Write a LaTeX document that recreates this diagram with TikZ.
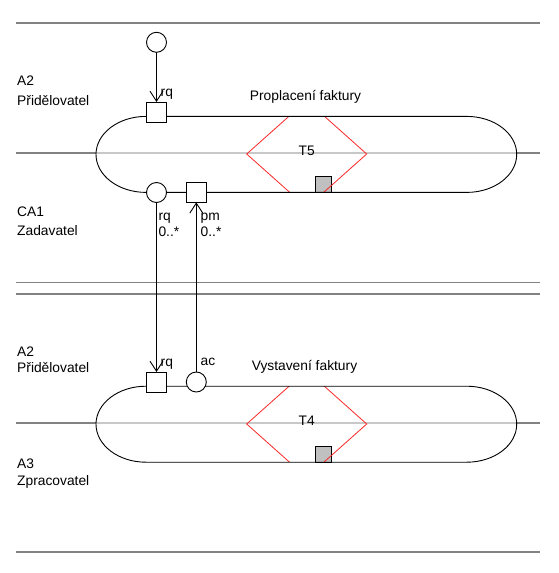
\documentclass[tikz,border=0pt]{standalone}
\usepackage{fontspec}
\setmainfont{Liberation Sans}
\usetikzlibrary{arrows.meta}
\definecolor{lanecol}{RGB}{130,130,130}
\definecolor{innercol}{RGB}{200,200,200}
\definecolor{boxcol}{RGB}{192,192,192}
\definecolor{diacol}{RGB}{250,40,40}
\begin{document}
\begin{tikzpicture}[x=1pt,y=-1pt,
  txt/.style={font=\fontsize{13.8}{16}\selectfont, inner sep=0pt, anchor=base west},
  ctxt/.style={font=\fontsize{13.8}{16}\selectfont, inner sep=0pt, anchor=base},
  lane/.style={draw=lanecol, line width=1.6pt},
  inner/.style={draw=innercol, line width=1.4pt},
  outline/.style={draw=black, line width=0.9pt},
  diam/.style={draw=diacol, line width=0.8pt},
  gbox/.style={fill=boxcol, draw=black, line width=0.8pt},
  port/.style={draw=black, line width=0.9pt, fill=white, minimum size=20pt, inner sep=0pt, outer sep=0pt},
  sqport/.style={port, rectangle},
  ciport/.style={port, circle},
  flow/.style={draw=black, line width=0.9pt, -{Straight Barb[length=10pt,width=13pt,line width=0.9pt]}}
]
\useasboundingbox (0,0) rectangle (558,573);
% lane separators
\foreach \yy in {22.7,153,282.5,294,423,551.7}
  \draw[lane] (16,\yy) -- (540,\yy);
% stadiums
\foreach \c/\d in {154.4/154, 424.2/424}{
  \fill[white] (146,{\c-38}) -- (466.7,{\c-38}) arc[start angle=-90,end angle=90,x radius=50,y radius=38]
     -- (146,{\c+38}) arc[start angle=90,end angle=270,x radius=50,y radius=38] -- cycle;
  \draw[inner] (96.5,{\c-1.3}) -- (516.3,{\c-1.3});
  \draw[gbox] (315.3,{\c+22}) rectangle (331.3,{\c+38});
  \begin{scope}
    \clip (146,{\c-38}) -- (466.7,{\c-38}) arc[start angle=-90,end angle=90,x radius=50,y radius=38]
     -- (146,{\c+38}) arc[start angle=90,end angle=270,x radius=50,y radius=38] -- cycle;
    \draw[diam] (246.7,\d) -- (306.7,{\d-53.5}) -- (366.7,\d) -- (306.7,{\d+53.5}) -- cycle;
  \end{scope}
  \draw[outline] (146,{\c-38}) -- (466.7,{\c-38}) arc[start angle=-90,end angle=90,x radius=50,y radius=38]
     -- (146,{\c+38}) arc[start angle=90,end angle=270,x radius=50,y radius=38] -- cycle;
}
% ports
\node[ciport] (c0) at (156.5,42.3) {};
\node[sqport] (sq1) at (156.5,112) {};
\node[ciport] (ci1) at (156.5,192.5) {};
\node[sqport] (sq2) at (196.3,192.3) {};
\node[sqport] (sq3) at (156.5,382) {};
\node[ciport] (ci3) at (196.3,382) {};
% flows
\draw[flow] (c0) -- (sq1);
\draw[flow] (ci1) -- (sq3);
\draw[flow] (ci3) -- (sq2);
% labels
\node[txt] (la1) at (17,85.7) {A2};
\node[txt] (la2) at (17,105.3) {Přidělovatel};
\node[txt] (la3) at (17,216.7) {CA1};
\node[txt] (la4) at (17,235) {Zadavatel};
\node[txt] (la5) at (17,356.7) {A2};
\node[txt] (la6) at (17,372.7) {Přidělovatel};
\node[txt] (la7) at (17,468.3) {A3};
\node[txt] (la8) at (17,485) {Zpracovatel};
\node[ctxt] (p1) at (305.5,100) {Proplacení faktury};
\node[ctxt] (p2) at (304.5,370) {Vystavení faktury};
\node[ctxt] (t5) at (306.7,155) {T5};
\node[ctxt] (t4) at (306.7,425) {T4};
\node[txt] (r1) at (160.5,96.5) {rq};
\node[txt] (r2) at (158.3,220.7) {rq};
\node[txt] (m2) at (158.3,236.7) {0..*};
\node[txt] (r3) at (200.5,220.7) {pm};
\node[txt] (m3) at (200.5,236.7) {0..*};
\node[txt] (r4) at (160.5,366) {rq};
\node[txt] (a4) at (200.5,365) {ac};
\end{tikzpicture}
\end{document}
